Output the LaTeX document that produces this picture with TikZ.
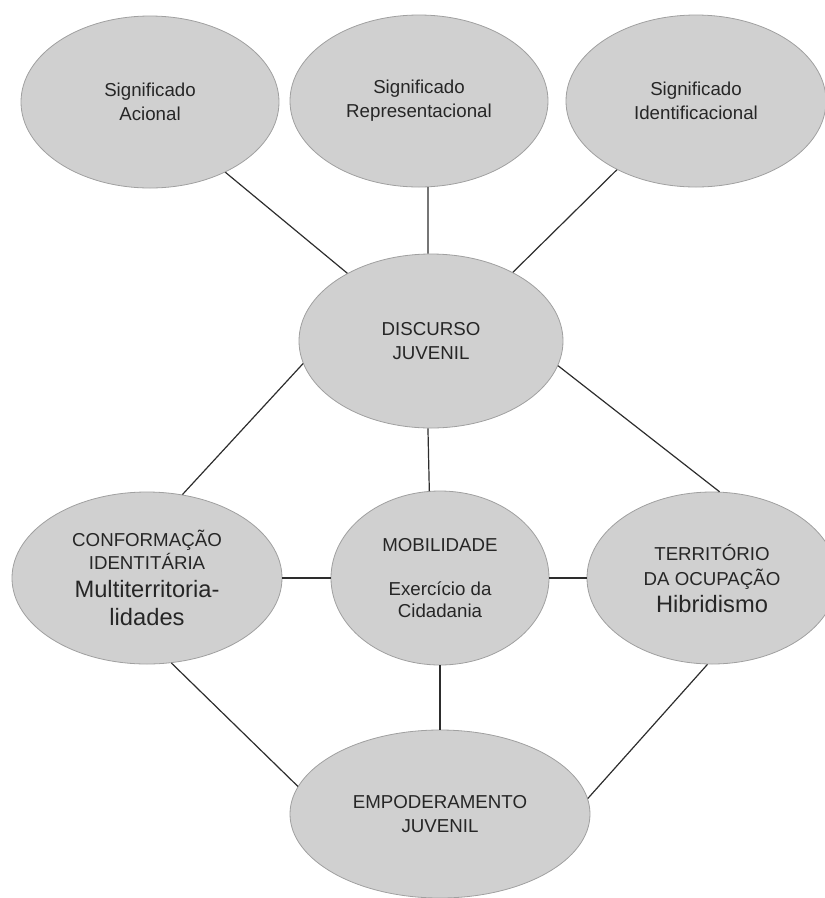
\documentclass[tikz,border=0pt]{standalone}
\usepackage{fontspec}
\setmainfont{Liberation Sans}
\usetikzlibrary{shapes.geometric,positioning}

\definecolor{ballgray}{RGB}{208,208,208}
\definecolor{rimgray}{RGB}{160,160,160}
\definecolor{linegray}{RGB}{45,45,45}

\begin{document}
\begin{tikzpicture}[-, x=1pt, y=1pt, on grid, line width=1.2pt, draw=linegray,
    main node/.style={ellipse, draw=rimgray, line width=0.8pt, fill=ballgray, inner sep=0pt, align=center, text=black!85, font=\fontsize{18.7}{24}\selectfont, minimum width=258pt, minimum height=172pt},
    big/.style={font=\fontsize{23.7}{28}\selectfont}]

            \useasboundingbox (0,0) rectangle (825,-898);

            \node[main node, minimum width=264pt, minimum height=174pt] (4) at (431,-341) {DISCURSO\\JUVENIL};
            \node[main node] (1) [above left=239pt and 281pt of 4]{Significado\\Acional};
            \node[main node] (2) [above left=240pt and 12pt of 4]{Significado\\Representacional};
            \node[main node, minimum width=260pt] (3) [above right=240pt and 265pt of 4]{Significado\\Identificacional};
            \node[main node, minimum width=218pt, minimum height=174pt] (6) [below right=237pt and 9pt of 4]{MOBILIDADE\\[20pt]Exercício da\\[-2pt]Cidadania};
            \node[main node, minimum width=270pt] (5) [left=293pt of 6]{CONFORMAÇÃO\\[-1pt]IDENTITÁRIA\\[4pt]{\fontsize{23.7}{28}\selectfont Multiterritoria-}\\[4pt]{\fontsize{23.7}{28}\selectfont lidades}};
            \node[main node, minimum width=250pt] (7) [right=272pt of 6]{TERRITÓRIO\\[1pt]DA OCUPAÇÃO\\[3pt]{\fontsize{23.7}{28}\selectfont Hibridismo}};
            \node[main node, minimum width=300pt, minimum height=168pt] (8) [below=236pt of 6]{EMPODERAMENTO\\JUVENIL};

            \draw[-] (1.-43) to (4.141);
            \draw[-] (2.-84) to (4.92);
            \draw[-] (3.221) to (4.40);
            \draw[-] (4.190) to (5.67);
            \draw[-] (4.268) to (6.97);
            \draw[-] (4.-11) to (7.85);
            \draw[-] (5) to (6);
            \draw[-] (6) to (7);
            \draw[-] (5.-74) to (8.169);
            \draw[-] (6) to (8);
            \draw[-] (7.267) to (8.6);

            ;
        \end{tikzpicture}
\end{document}
